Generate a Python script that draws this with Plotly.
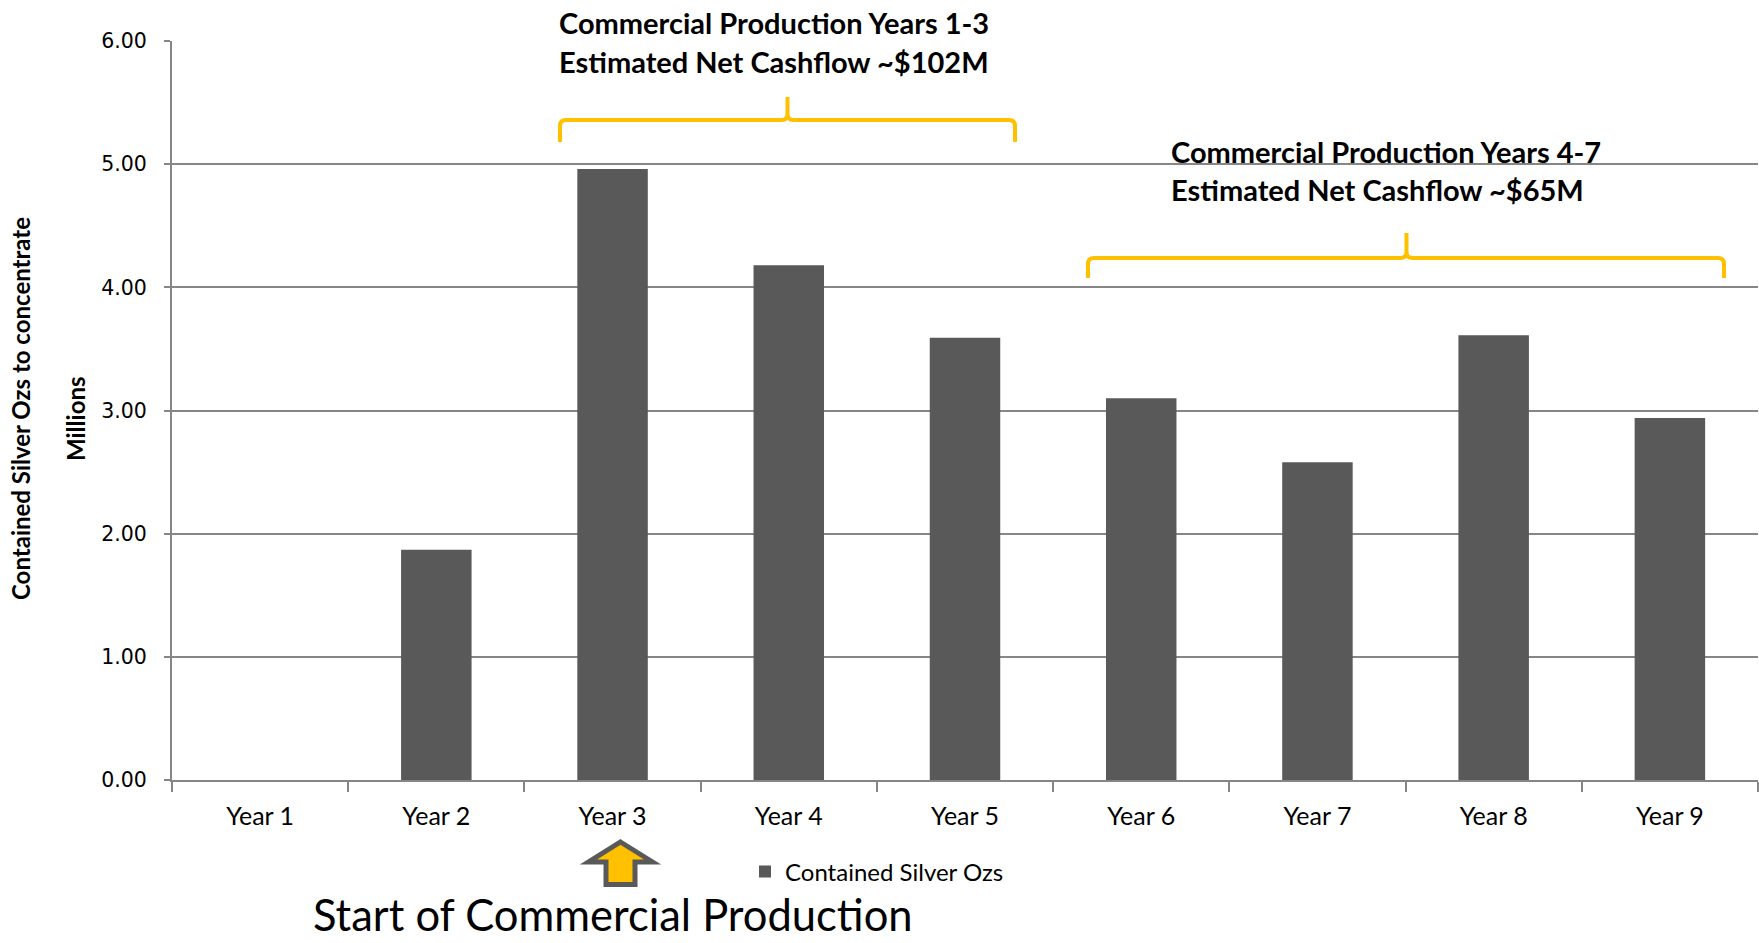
import plotly.graph_objects as go

# Contained silver ounces (millions) by production year
years = ["Year 1", "Year 2", "Year 3", "Year 4", "Year 5",
         "Year 6", "Year 7", "Year 8", "Year 9"]
silver_ozs = [0.0, 1.87, 4.96, 4.18, 3.59, 3.10, 2.58, 3.61, 2.94]
y_ticks = [0, 1, 2, 3, 4, 5, 6]
y_tick_labels = ["0.00", "1.00", "2.00", "3.00", "4.00", "5.00", "6.00"]

W, H = 1759, 943
ML, MR, MT, MB = 172, 1, 41, 163
PW, PH = W - ML - MR, H - MT - MB

BAR = "#595959"
GRID = "#868686"
GOLD = "#FFC000"
TXT = "Lato, 'Open Sans', sans-serif"


def px(x, y):
    """Pixel position on the page -> paper coordinates."""
    return (x - ML) / PW, (H - MB - y) / PH


def pt(x, y):
    a, b = px(x, y)
    return f"{a:.5f},{b:.5f}"


def brace(left, right, mid, y_line, y_end, y_peak, r=6):
    return (f"M{pt(left, y_end)} L{pt(left, y_line + r)} "
            f"Q{pt(left, y_line)} {pt(left + r, y_line)} "
            f"L{pt(mid - r, y_line)} Q{pt(mid, y_line)} {pt(mid, y_line - r)} "
            f"L{pt(mid, y_peak)} L{pt(mid, y_line - r)} "
            f"Q{pt(mid, y_line)} {pt(mid + r, y_line)} "
            f"L{pt(right - r, y_line)} Q{pt(right, y_line)} {pt(right, y_line + r)} "
            f"L{pt(right, y_end)}")


def up_arrow(tip_x, tip_y, half_head, half_shaft, head_y, bottom_y):
    pts = [(tip_x, tip_y), (tip_x + half_head, head_y), (tip_x + half_shaft, head_y),
           (tip_x + half_shaft, bottom_y), (tip_x - half_shaft, bottom_y),
           (tip_x - half_shaft, head_y), (tip_x - half_head, head_y)]
    return "M" + " L".join(pt(*p) for p in pts) + " Z"


fig = go.Figure()
fig.add_trace(go.Bar(
    x=years, y=silver_ozs, name="Contained Silver Ozs",
    marker=dict(color=BAR, line=dict(width=0)),
))

shapes = [
    dict(type="path", xref="paper", yref="paper",
         path=brace(560, 1015, 787.5, 120, 142, 97),
         line=dict(color=GOLD, width=4)),
    dict(type="path", xref="paper", yref="paper",
         path=brace(1088, 1724, 1406.5, 258, 278, 233),
         line=dict(color=GOLD, width=4)),
    dict(type="path", xref="paper", yref="paper",
         path=up_arrow(620.5, 842, 32, 14.5, 862, 884.5),
         fillcolor=GOLD, line=dict(color=BAR, width=5)),
]

annotations = []


def label(text, x, y, size, bold=False, anchor="left", angle=0):
    xa, ya = px(x, y)
    annotations.append(dict(
        text=f"<b>{text}</b>" if bold else text, x=xa, y=ya,
        xref="paper", yref="paper", xanchor=anchor, yanchor="middle",
        showarrow=False, textangle=angle,
        font=dict(family=TXT, size=size, color="#000000"),
    ))


label("Commercial Production Years 1-3", 557, 22, 29, bold=True)
label("Estimated Net Cashflow ~$102M", 557, 61, 29, bold=True)
label("Commercial Production Years 4-7", 1169, 151, 29, bold=True)
label("Estimated Net Cashflow ~$65M", 1169, 190, 29, bold=True)
label("Start of Commercial Production", 613, 914, 43.5, anchor="center")
label("Contained Silver Ozs to concentrate", 20, 409, 24, bold=True,
      anchor="center", angle=-90)
label("Millions", 75, 419, 24, bold=True, anchor="center", angle=-90)

lx, ly = px(745, 872)
fig.update_layout(
    width=W, height=H,
    margin=dict(l=ML, r=MR, t=MT, b=MB, pad=0),
    paper_bgcolor="white", plot_bgcolor="white",
    bargap=0.6,
    showlegend=True,
    legend=dict(orientation="h", x=lx, y=ly, xanchor="left", yanchor="middle",
                font=dict(family=TXT, size=24, color="#000000"),
                bgcolor="rgba(0,0,0,0)"),
    xaxis=dict(
        type="category", tickson="boundaries", ticks="outside", ticklen=10,
        tickcolor=GRID, tickwidth=1.5, showline=True, linecolor=GRID, linewidth=2,
        showgrid=False, tickfont=dict(family=TXT, size=25, color="#000000"),
        ticklabelstandoff=13, range=[-0.5, 8.5],
    ),
    yaxis=dict(
        range=[0, 6], tickvals=y_ticks, ticktext=y_tick_labels,
        ticks="outside", ticklen=6, tickcolor=GRID, tickwidth=1.5,
        showline=True, linecolor=GRID, linewidth=2,
        showgrid=True, gridcolor=GRID, gridwidth=1.5, zeroline=False,
        tickfont=dict(family="'DejaVu Sans', Verdana, sans-serif", size=20.5,
                      color="#000000"),
        ticklabelstandoff=13,
    ),
    shapes=shapes, annotations=annotations,
)

fig.write_html("out.html")
